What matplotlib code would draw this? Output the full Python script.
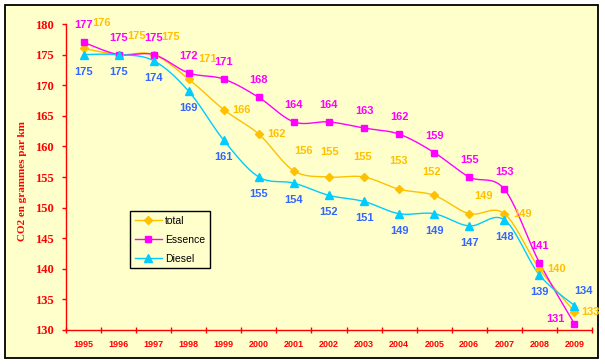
import numpy as np
import matplotlib
matplotlib.use('Agg')
from matplotlib import pyplot as plt
from matplotlib.patches import Rectangle

years = ['1995', '1996', '1997', '1998', '1999', '2000', '2001', '2002',
         '2003', '2004', '2005', '2006', '2007', '2008', '2009']
total = [176, 175, 175, 171, 166, 162, 156, 155, 155, 153, 152, 149, 149, 140, 133]
essence = [177, 175, 175, 172, 171, 168, 164, 164, 163, 162, 159, 155, 153, 141, 131]
diesel = [175, 175, 174, 169, 161, 155, 154, 152, 151, 149, 149, 147, 148, 139, 134]

# label offsets in pixels (dx, dy)
off_total = [(18, 25), (18, 19), (17, 18), (19, 20), (18, 0), (18, 0), (10, 20), (1, 25),
             (-2, 20), (-1, 28), (-3, 23), (14, 18), (18, 0), (17, 0), (16, 0)]
off_ess = [(0, 17)] * 14 + [(-19, 5)]
off_dies = [(0, -17)] * 14 + [(9, 15)]

BG = '#FFFFCC'
GOLD = '#FFC000'
MAG = '#FF00FF'
CYAN = '#00CCFF'
BLUE = '#3366FF'


def smooth(y, n=20):
    # excel-like smoothed line (catmull-rom through the points)
    y = np.asarray(y, float)
    x = np.arange(len(y), dtype=float)
    P = np.column_stack([x, y])
    P = np.vstack([P[0], P, P[-1]])
    out = []
    for i in range(1, len(P) - 2):
        p0, p1, p2, p3 = P[i - 1], P[i], P[i + 1], P[i + 2]
        c1 = p1 + (p2 - p0) / 6
        c2 = p2 - (p3 - p1) / 6
        t = np.linspace(0, 1, n)[:, None]
        seg = (1 - t) ** 3 * p1 + 3 * (1 - t) ** 2 * t * c1 + 3 * (1 - t) * t ** 2 * c2 + t ** 3 * p2
        out.append(seg if i == 1 else seg[1:])
    out = np.vstack(out)
    return out[:, 0], out[:, 1]


fig = plt.figure(figsize=(6.05, 3.64), dpi=100, facecolor='white')
fig.patches.append(Rectangle((5 / 605, 6 / 364), 593 / 605, 353 / 364, transform=fig.transFigure,
                             fc=BG, ec='black', lw=1.3, zorder=-10))
ax = fig.add_axes([66 / 605, 1 - 330 / 364, 526 / 605, 306 / 364])
ax.set_facecolor('none')

x = np.arange(len(years))
series = [
    (total, 'total', GOLD, 'D', 4.5, GOLD, off_total),
    (essence, 'Essence', MAG, 's', 5, MAG, off_ess),
    (diesel, 'Diesel', CYAN, '^', 6, BLUE, off_dies),
]
for vals, name, col, mk, ms, lcol, offs in series:
    sx, sy = smooth(vals)
    ax.plot(sx, sy, color=col, lw=1.0, zorder=3)
    ax.plot(x, vals, ls='none', marker=mk, ms=ms, color=col, zorder=4)
    for xi, v, (dx, dy) in zip(x, vals, offs):
        ax.annotate(str(v), (xi, v), xytext=(dx, dy), textcoords='offset pixels',
                    ha='center', va='center', color=lcol, fontsize=8,
                    fontweight='bold', family='Liberation Sans', zorder=5)

# legend handles
hs = [ax.plot([], [], color=c, marker=m, ms=s, lw=1.0, label=n)[0]
      for _, n, c, m, s, _, _ in series]
leg = ax.legend(handles=hs, loc='upper left', bbox_to_anchor=((125 - 66) / 526, (330 - 206) / 306),
                frameon=True, fancybox=False, edgecolor='black', facecolor=BG, framealpha=1,
                prop={'family': 'Liberation Sans', 'size': 7.5}, handlelength=2.6,
                borderpad=0.45, labelspacing=0.85, handletextpad=0.3)
leg.get_frame().set_linewidth(1.0)

ax.set_xlim(-0.5, len(years) - 0.5)
ax.set_ylim(130, 180)
ax.set_yticks(range(130, 181, 5))
ax.set_xticks(np.arange(-0.5, len(years), 1.0))
ax.set_xticklabels([])
ax.set_xticks(x, minor=True)
ax.set_xticklabels(years, minor=True)
ax.tick_params(axis='x', which='major', direction='inout', length=5, color='red', width=1)
ax.tick_params(axis='x', which='minor', length=0, pad=7, labelsize=6.5, labelcolor='red')
ax.tick_params(axis='y', direction='out', length=3, color='red', width=1, labelsize=9,
               labelcolor='red', pad=6)
for lab in ax.get_xticklabels(minor=True):
    lab.set_fontweight('bold')
    lab.set_family('Liberation Sans')
for lab in ax.get_yticklabels():
    lab.set_fontweight('bold')
    lab.set_family('Liberation Serif')

for s in ['top', 'right']:
    ax.spines[s].set_visible(False)
for s in ['left', 'bottom']:
    ax.spines[s].set_color('red')
    ax.spines[s].set_linewidth(1.0)

ax.set_ylabel('CO2 en grammes par km', color='red', fontsize=8, fontweight='bold',
              family='Liberation Serif')
ax.yaxis.set_label_coords(-39 / 526, (330 - 181) / 306)

plt.savefig('out.png', dpi=100)
